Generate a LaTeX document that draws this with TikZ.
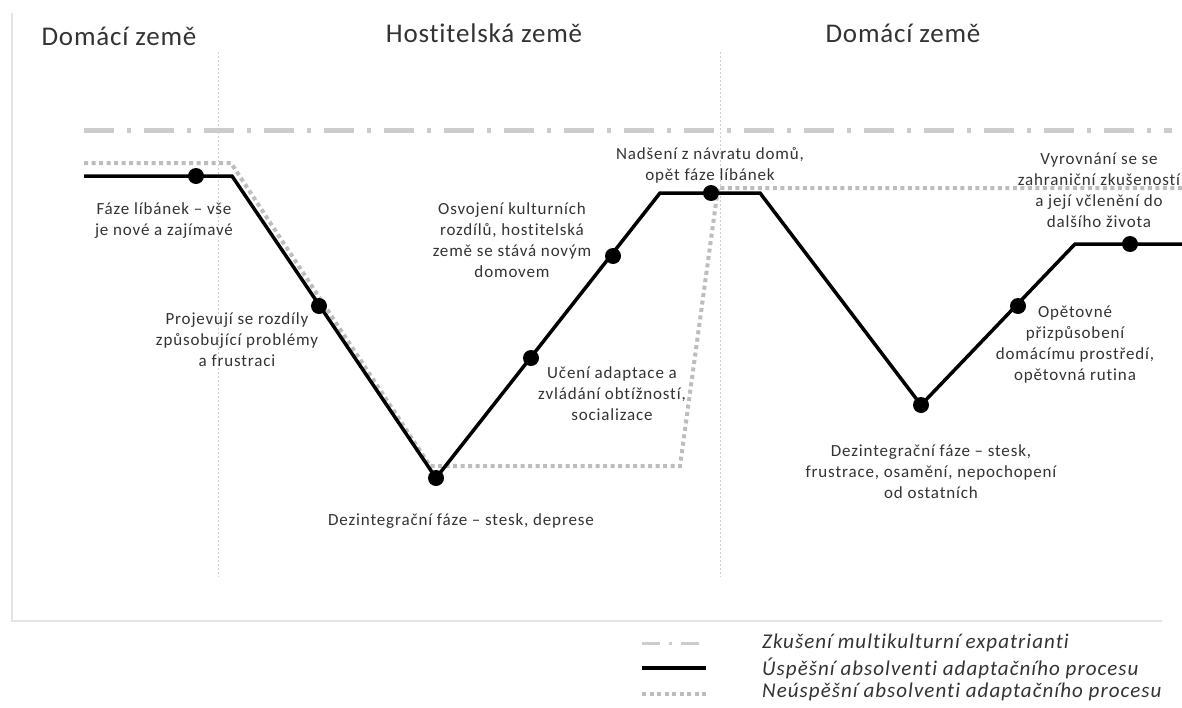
\documentclass[tikz,border=0pt]{standalone}
\usepackage{fontspec}
\setmainfont{Carlito}[Ligatures=NoCommon]
\newfontfamily\spacedfont[LetterSpace=5,Ligatures=NoCommon]{Carlito}
\newfontfamily\titlefont[LetterSpace=3,Ligatures=NoCommon]{Carlito}
\definecolor{ink}{HTML}{333333}
\definecolor{framegray}{HTML}{E4E4E4}
\definecolor{sepgray}{HTML}{D0D0D0}
\definecolor{expatgray}{HTML}{CCCCCC}
\definecolor{failgray}{HTML}{BDBDBD}
\begin{document}
\begin{tikzpicture}[x=1pt,y=-1pt,
  label text/.style={text=ink, align=center, inner sep=0pt,
    font=\spacedfont\fontsize{17}{21}\selectfont},
  title text/.style={text=ink, inner sep=0pt, font=\titlefont\fontsize{27}{30}\selectfont},
  legend text/.style={text=ink, anchor=west, inner sep=0pt,
    font=\spacedfont\fontsize{21}{24}\selectfont\itshape},
  phase dot/.style={circle, fill=black, inner sep=0pt, minimum size=16pt},
  expat line/.style={expatgray, line width=5pt,
    dash pattern=on 30pt off 13pt on 4pt off 13pt},
  success line/.style={black, line width=3.5pt, line join=miter},
  fail line/.style={failgray, line width=4pt, dash pattern=on 4pt off 3.5pt},
  separator/.style={sepgray, line width=1pt, dash pattern=on 2pt off 2pt},
]
\useasboundingbox (0,0) rectangle (1182,707);

% frame
\draw[framegray, line width=2pt] (12,13) -- (12,621) -- (1162,621);

% section separators
\draw[separator] (218,52) -- (218,577);
\draw[separator] (720,52) -- (720,577);

% section titles
\node[title text] (t1) at (119,36) {Domácí země};
\node[title text] (t2) at (484,33) {Hostitelská země};
\node[title text] (t3) at (903,33) {Domácí země};

% experienced multicultural expatriates
\coordinate (e0) at (84,130);
\coordinate (e1) at (1172,130);
\draw[expat line] (e0) -- (e1);

% unsuccessful adaptation
\coordinate (f0) at (84,163);
\coordinate (f1) at (231,163);
\coordinate (f2) at (430,466);
\coordinate (f3) at (680,466);
\coordinate (f4) at (718,188);
\coordinate (f5) at (1182,188);
\draw[fail line] (f0) -- (f1) -- (f2) -- (f3) -- (f4) -- (f5);

% successful adaptation
\coordinate (s0) at (84,176);
\coordinate (s1) at (232,176);
\coordinate (s2) at (436,478);
\coordinate (s3) at (660,193);
\coordinate (s4) at (760,193);
\coordinate (s5) at (921,405);
\coordinate (s6) at (1075,244);
\coordinate (s7) at (1182,244);
\draw[success line] (s0) -- (s1) -- (s2) -- (s3) -- (s4) -- (s5) -- (s6) -- (s7);

% phase markers
\node[phase dot] (d1) at (196,176) {};
\node[phase dot] (d2) at (319,306) {};
\node[phase dot] (d3) at (436,478) {};
\node[phase dot] (d4) at (531,358) {};
\node[phase dot] (d5) at (613,256) {};
\node[phase dot] (d6) at (711,193) {};
\node[phase dot] (d7) at (921,405) {};
\node[phase dot] (d8) at (1018,306) {};
\node[phase dot] (d9) at (1130,244) {};

% phase descriptions
\node[label text] (l1) at (164,221) {Fáze líbánek – vše\\je nové a zajímavé};
\node[label text] (l2) at (237,340) {Projevují se rozdíly\\způsobující problémy\\a frustraci};
\node[label text] (l3) at (461,521) {Dezintegrační fáze – stesk, deprese};
\node[label text] (l4) at (512,240) {Osvojení kulturních\\rozdílů, hostitelská\\země se stává novým\\domovem};
\node[label text] (l5) at (612,394) {Učení adaptace a\\zvládání obtížností,\\socializace};
\node[label text] (l6) at (710,165) {Nadšení z návratu domů,\\opět fáze líbánek};
\node[label text] (l7) at (1099,190) {Vyrovnání se se\\zahraniční zkušeností\\a její včlenění do\\dalšího života};
\node[label text] (l8) at (1075,345) {Opětovné\\přizpůsobení\\domácímu prostředí,\\opětovná rutina};
\node[label text] (l9) at (931,472) {Dezintegrační fáze – stesk,\\frustrace, osamění, nepochopení\\od ostatních};

% legend
\coordinate (k1a) at (642,643);
\coordinate (k1b) at (706,643);
\coordinate (k2a) at (642,668);
\coordinate (k2b) at (706,668);
\coordinate (k3a) at (642,694);
\coordinate (k3b) at (706,694);
\draw[expatgray, line width=3pt, dash pattern=on 18pt off 9pt on 3pt off 9pt] (k1a) -- (k1b);
\draw[success line] (k2a) -- (k2b);
\draw[fail line] (k3a) -- (k3b);
\node[legend text] (g1) at (762,643) {Zkušení multikulturní expatrianti};
\node[legend text] (g2) at (762,668) {Úspěšní absolventi adaptačního procesu};
\node[legend text] (g3) at (762,692) {Neúspěšní absolventi adaptačního procesu};
\end{tikzpicture}
\end{document}
